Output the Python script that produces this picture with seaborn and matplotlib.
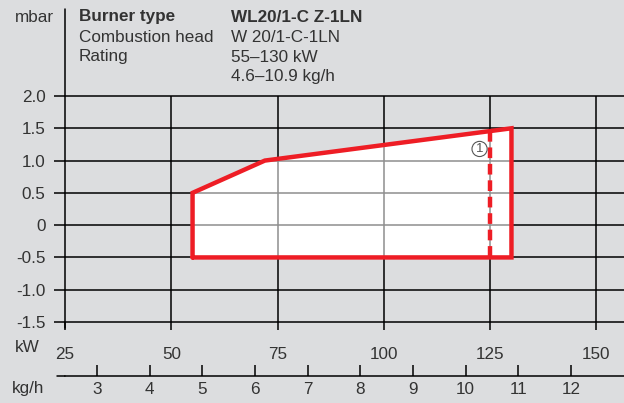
import matplotlib.pyplot as plt
import seaborn as sns
from matplotlib.lines import Line2D

# working field of the burner (kW vs mbar)
kw_outline = [55, 55, 72, 130, 130, 55]
mbar_outline = [-0.5, 0.5, 1.0, 1.5, -0.5, -0.5]
kw_limit = [125, 125]
mbar_limit = [1.46, -0.5]

kw_ticks = [25, 50, 75, 100, 125, 150]
mbar_ticks = [-1.5, -1.0, -0.5, 0, 0.5, 1.0, 1.5, 2.0]
mbar_labels = ['-1.5', '-1.0', '-0.5', '0', '0.5', '1.0', '1.5', '2.0']
kgh_ticks = [3, 4, 5, 6, 7, 8, 9, 10, 11, 12]

header_left = ['Burner type', 'Combustion head', 'Rating', '']
header_right = ['WL20/1-C Z-1LN', 'W 20/1-C-1LN', '55\u2013130 kW', '4.6\u201310.9 kg/h']

bg = '#dcdddf'
red = '#ee1d25'
txt = '#333333'
fs = 12.3

sns.set_theme(style='white', rc={'figure.facecolor': bg, 'axes.facecolor': bg})
plt.rcParams['font.family'] = ['Liberation Sans', 'DejaVu Sans']

fig = plt.figure(figsize=(6.24, 4.03), dpi=100)
W, H = 624, 403
ax = fig.add_axes([65 / W, 1 - 322 / H, (W - 65) / W, (322 - 96) / H])
ax.set_xlim(25, 25 + (W - 65) / 4.252)
ax.set_ylim(-1.5, 2.0)

# black grid outside the field
for y in mbar_ticks:
    ax.axhline(y, color='black', lw=1.1, zorder=0, clip_on=False)
for x in kw_ticks[1:]:
    ax.axvline(x, color='black', lw=1.1, zorder=0)

# white field with grey grid inside
poly = ax.fill(kw_outline, mbar_outline, color='white', zorder=1, lw=0)[0]
hl = ax.hlines(mbar_ticks, 25, 160, color='#8e8e8e', lw=1.1, zorder=2)
vl = ax.vlines(kw_ticks, -1.5, 2.0, color='#8e8e8e', lw=1.1, zorder=2)
hl.set_clip_path(poly)
vl.set_clip_path(poly)

sns.lineplot(x=kw_outline, y=mbar_outline, sort=False, estimator=None,
             color=red, lw=3.2, ax=ax, zorder=4)
ax.lines[-1].set_solid_joinstyle('miter')
sns.lineplot(x=kw_limit, y=mbar_limit, sort=False, estimator=None,
             color=red, lw=3.2, ax=ax, zorder=4, dashes=False)
ax.lines[-1].set_dashes((2.4, 1.3))
ax.text(122.5, 1.18, '1', fontsize=9.5, color='#555555', ha='center', va='center', zorder=5,
        bbox=dict(boxstyle='circle,pad=0.12', fc='white', ec='#555555', lw=0.8))

for s in ['top', 'right', 'left', 'bottom']:
    ax.spines[s].set_visible(False)

ax.set_xticks(kw_ticks)
ax.set_xticklabels([str(t) for t in kw_ticks])
ax.set_yticks(mbar_ticks)
ax.set_yticklabels(mbar_labels)
ax.tick_params(axis='y', direction='out', length=8, width=1.1, color='black',
               pad=6, labelsize=fs, labelcolor=txt, left=True)
ax.tick_params(axis='x', direction='out', length=6, width=1.1, color='black',
               pad=12, labelsize=fs, labelcolor=txt, bottom=True)

# long left axis line
fig.add_artist(Line2D([65 / W, 65 / W], [1 - 9 / H, 1 - 328 / H], color='black', lw=1.1))

# kg/h scale
kw2kg = lambda k: (k + 4.63) / 12.385
kg2kw = lambda g: g * 12.385 - 4.63
sec = ax.secondary_xaxis(-0.239, functions=(kw2kg, kg2kw))
sec.set_xticks(kgh_ticks)
sec.set_xticklabels([str(t) for t in kgh_ticks])
sec.tick_params(direction='in', length=8, width=1.1, color='black', pad=4,
                labelsize=fs, labelcolor=txt)
sec.spines['bottom'].set_linewidth(1.1)
sec.spines['bottom'].set_color('black')
fig.add_artist(Line2D([57 / W, 65 / W], [1 - 376 / H, 1 - 376 / H], color='black', lw=1.1))

fig.text(54 / W, 1 - 17 / H, 'mbar', ha='right', va='center', fontsize=fs, color=txt)
fig.text(40 / W, 1 - 348 / H, 'kW', ha='right', va='center', fontsize=fs, color=txt)
fig.text(12 / W, 1 - 388 / H, 'kg/h', ha='left', va='center', fontsize=fs, color=txt)

for i, (a, b) in enumerate(zip(header_left, header_right)):
    w = 'bold' if i == 0 else 'normal'
    y = 1 - (17 + 20 * i) / H
    fig.text(79 / W, y, a, ha='left', va='center', fontsize=fs, color=txt, weight=w)
    fig.text(231 / W, y, b, ha='left', va='center', fontsize=fs, color=txt, weight=w)

fig.savefig('out.png', dpi=100, facecolor=bg)
